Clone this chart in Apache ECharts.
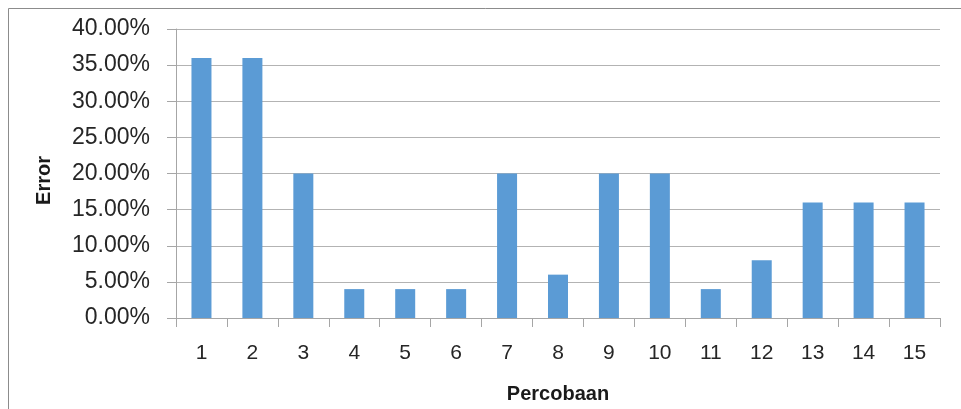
<!DOCTYPE html>
<html>
<head>
<meta charset="utf-8">
<script src="https://cdn.jsdelivr.net/npm/echarts@6/dist/echarts.min.js"></script>
<style>
  html, body { margin: 0; padding: 0; background: #fff; }
  #chart { width: 961px; height: 409px; }
</style>
</head>
<body>
<div id="chart"></div>
<script>
// Trial numbers along the x axis
const categories = ['1', '2', '3', '4', '5', '6', '7', '8', '9', '10', '11', '12', '13', '14', '15'];
// Error per trial, in percent
const errorValues = [36, 36, 20, 4, 4, 4, 20, 6, 20, 20, 4, 8, 16, 16, 16];
// Value axis range and step, in percent
const yMin = 0;
const yMax = 40;
const yStep = 5;

const chart = echarts.init(document.getElementById('chart'), null, { renderer: 'canvas' });

const font = 'Liberation Sans';

chart.setOption({
  animation: false,
  backgroundColor: '#ffffff',
  graphic: [{
    type: 'rect',
    silent: true,
    shape: { x: 8.5, y: 8.5, width: 1000, height: 500 },
    style: { fill: 'none', stroke: '#8c8c8c', lineWidth: 1 }
  }],
  grid: { left: 176, right: 21, top: 29, bottom: 91, containLabel: false },
  xAxis: {
    type: 'category',
    data: categories,
    name: 'Percobaan',
    nameLocation: 'middle',
    nameGap: 66,
    nameTextStyle: { fontFamily: font, fontWeight: 'bold', fontSize: 20, color: '#1a1a1a' },
    axisLine: { lineStyle: { color: '#a6a6a6', width: 1 } },
    axisTick: { show: true, length: 9, lineStyle: { color: '#a6a6a6' } },
    axisLabel: { fontFamily: font, fontSize: 21, color: '#262626', margin: 25 }
  },
  yAxis: {
    type: 'value',
    min: yMin,
    max: yMax,
    interval: yStep,
    name: 'Error',
    nameLocation: 'middle',
    nameGap: 122,
    nameRotate: 90,
    nameTextStyle: {
      fontFamily: font, fontWeight: 'bold', fontSize: 20, color: '#1a1a1a',
      padding: [0, 14, 0, 0]
    },
    axisLine: { show: true, lineStyle: { color: '#a6a6a6', width: 1 } },
    axisTick: { show: true, length: 9, lineStyle: { color: '#a6a6a6' } },
    axisLabel: {
      fontFamily: font, fontSize: 23, color: '#262626', margin: 26,
      formatter: v => v.toFixed(2) + '%'
    },
    splitLine: { show: true, lineStyle: { color: '#b3b3b3', width: 1 } }
  },
  series: [{
    type: 'bar',
    data: errorValues,
    barWidth: 20,
    itemStyle: { color: '#5b9bd5' }
  }]
});
</script>
</body>
</html>
